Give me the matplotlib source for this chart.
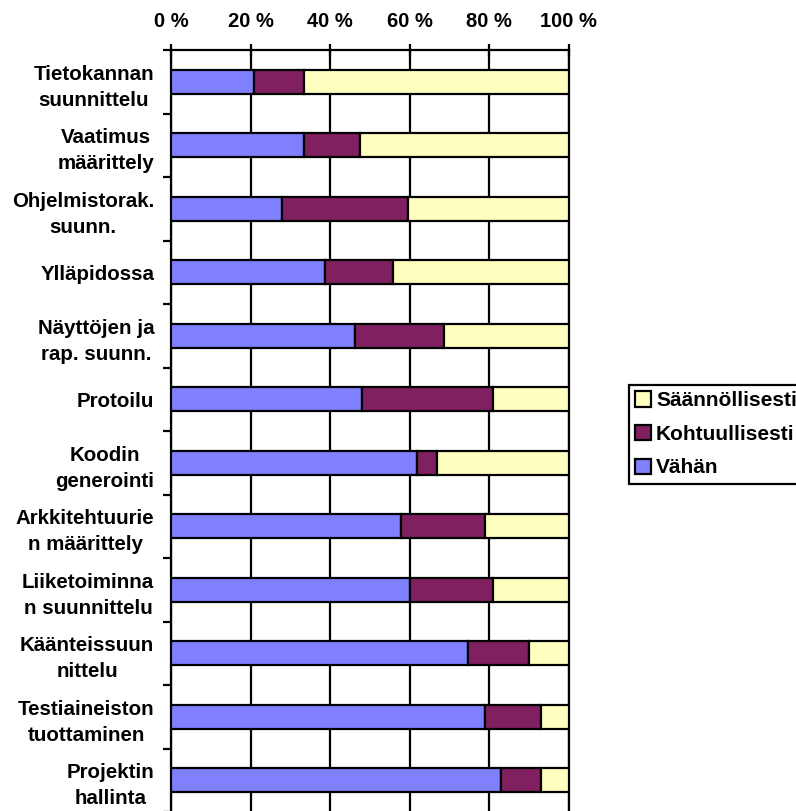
import matplotlib
matplotlib.use("Agg")
import matplotlib.pyplot as plt
import numpy as np

plt.rcParams['font.family'] = ['Liberation Sans', 'DejaVu Sans']
plt.rcParams['font.weight'] = 'bold'

categories = [
    "Tietokannan\nsuunnittelu",
    "Vaatimus\nmäärittely",
    "Ohjelmistorak.\nsuunn.",
    "Ylläpidossa",
    "Näyttöjen ja\nrap. suunn.",
    "Protoilu",
    "Koodin\ngenerointi",
    "Arkkitehtuurie\nn määrittely",
    "Liiketoiminna\nn suunnittelu",
    "Käänteissuun\nnittelu",
    "Testiaineiston\ntuottaminen",
    "Projektin\nhallinta",
]

vahan = [21.0, 33.5, 28.0, 38.8, 46.3, 48.0, 62.0, 57.9, 60.0, 74.8, 79.0, 83.0]
kohtuullisesti = [12.4, 14.0, 31.5, 17.1, 22.5, 33.1, 5.0, 21.2, 21.1, 15.3, 14.0, 10.0]
saannollisesti = [66.6, 52.5, 40.5, 44.1, 31.2, 18.9, 33.0, 20.9, 18.9, 9.9, 7.0, 7.0]

series_names = ["Vähän", "Kohtuullisesti", "Säännöllisesti"]
series_colors = ["#8080FF", "#802060", "#FFFFC0"]
x_ticks = [0, 20, 40, 60, 80, 100]

FS = 14.8

W, H = 796, 811
fig = plt.figure(figsize=(W / 100, H / 100), dpi=100)
ax = fig.add_axes([171 / W, 1 - 812 / H, 397.5 / W, 762 / H])

y = np.arange(len(categories))
left = np.zeros(len(categories))
handles = []
for vals, name, col in zip([vahan, kohtuullisesti, saannollisesti], series_names, series_colors):
    b = ax.barh(y, vals, left=left, height=0.38, color=col, edgecolor='black',
                linewidth=1.6, label=name, zorder=3)
    handles.append(b)
    left = left + np.array(vals)

ax.set_xlim(0, 100)
ax.set_ylim(len(categories) - 0.5, -0.5)

# value axis on top
ax.xaxis.tick_top()
ax.set_xticks(x_ticks)
ax.set_xticklabels([f"{v} %" for v in x_ticks], fontsize=14.5, fontweight='bold')
ax.tick_params(axis='x', direction='inout', length=9, width=1.6, pad=9, colors='black')
ax.xaxis.grid(True, color='black', linewidth=1.6, zorder=1)

# category axis: ticks at boundaries, labels at centres
ax.set_yticks(np.arange(-0.5, len(categories), 1.0))
ax.set_yticklabels([])
ax.tick_params(axis='y', which='major', direction='out', length=6, width=1.6)
ax.set_yticks(y, minor=True)
ax.set_yticklabels(categories, minor=True, fontsize=FS, fontweight='bold',
                   linespacing=1.45)
for t in ax.get_yticklabels(minor=True):
    t.set_multialignment('center')
ax.tick_params(axis='y', which='minor', length=0, pad=12)

for s in ax.spines.values():
    s.set_linewidth(1.6)
    s.set_color('black')

leg = fig.legend(handles[::-1], series_names[::-1], loc='upper left',
                 bbox_to_anchor=(629 / W, 1 - 385 / H), frameon=True,
                 fancybox=False, edgecolor='black', framealpha=1,
                 prop={'size': 15, 'weight': 'bold'},
                 handlelength=0.75, handleheight=0.75, handletextpad=0.25,
                 labelspacing=0.7, borderpad=0.3, borderaxespad=0)
leg.get_frame().set_linewidth(1.6)

fig.savefig("out.png", dpi=100)
